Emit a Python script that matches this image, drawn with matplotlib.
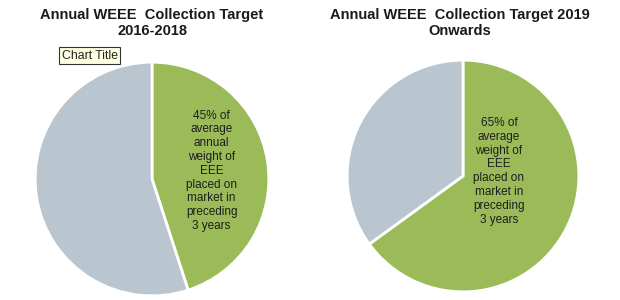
import matplotlib
matplotlib.use('Agg')
import matplotlib.pyplot as plt

plt.rcParams['font.family'] = ['Liberation Sans', 'DejaVu Sans']

titles = ['Annual WEEE  Collection Target\n2016-2018',
          'Annual WEEE  Collection Target 2019\nOnwards']
shares_a = [45, 55]
shares_b = [65, 35]
labels_a = '45% of\naverage\nannual\nweight of\nEEE\nplaced on\nmarket in\npreceding\n3 years'
labels_b = '65% of\naverage\nweight of\nEEE\nplaced on\nmarket in\npreceding\n3 years'
colors = ['#9bbb59', '#b9c6cf']

W, H = 620, 300
fig = plt.figure(figsize=(6.2, 3.0), dpi=100)
fig.patch.set_facecolor('white')

def px_axes(cx, cy, r):
    ax = fig.add_axes([(cx - r) / W, (H - cy - r) / H, 2 * r / W, 2 * r / H])
    return ax

def draw_pie(ax, shares, text, tx, ty):
    ax.pie(shares, colors=colors, startangle=90, counterclock=False,
           wedgeprops=dict(edgecolor='white', linewidth=2))
    ax.set_aspect('auto')
    ax.set_xlim(-1.01, 1.01)
    ax.set_ylim(-1.01, 1.01)
    ax.axis('off')
    ax.text(tx, ty, text, ha='center', va='center', fontsize=8.5,
            color='#1e1e1e', linespacing=1.2)

draw_pie(px_axes(152, 179, 118), shares_a, labels_a, 0.51, 0.07)
draw_pie(px_axes(463, 176, 117), shares_b, labels_b, 0.31, 0.04)

fig.text(152 / W, 1 - 23 / H, titles[0], ha='center', va='center',
         fontsize=10.5, fontweight='bold', color='#1a1a1a', linespacing=1.15)
fig.text(460 / W, 1 - 23 / H, titles[1], ha='center', va='center',
         fontsize=10.5, fontweight='bold', color='#1a1a1a', linespacing=1.15)

# tooltip
fig.text(89.5 / W, 1 - 55.5 / H, 'Chart Title', ha='center', va='center',
         fontsize=8.8, color='#222222',
         bbox=dict(boxstyle='square,pad=0.2', facecolor='#ffffe1',
                   edgecolor='#333333', linewidth=0.8))

fig.savefig('out.png', dpi=100)
